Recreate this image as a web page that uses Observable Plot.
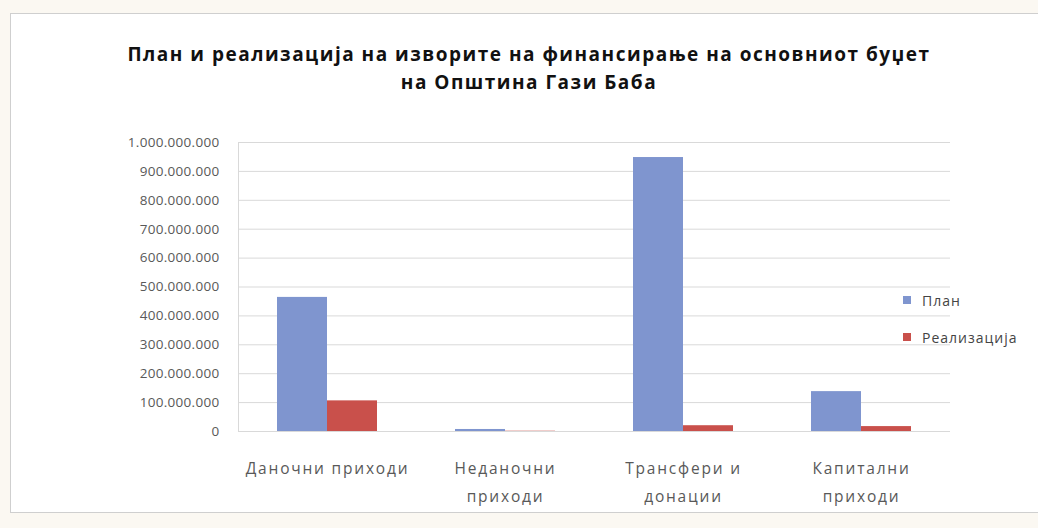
<!DOCTYPE html>
<html>
<head>
<meta charset="utf-8">
<script src="https://cdn.jsdelivr.net/npm/d3@7"></script>
<script src="https://cdn.jsdelivr.net/npm/@observablehq/plot@0.6"></script>
<style>
  html, body { margin: 0; padding: 0; background: #fbf8f2; width: 1038px; height: 528px; overflow: hidden; }
  #frame { position: absolute; left: 10px; top: 13px; width: 1040px; height: 498px; background: #ffffff; border: 1px solid #cfcfcf; }
  #title { position: absolute; left: 0; width: 1058px; top: 40px; text-align: center; font-family: "Open Sans", sans-serif; font-weight: 700; font-size: 19px; letter-spacing: 1.5px; line-height: 28px; color: #111; }
  #chart { position: absolute; left: 0; top: 100px; }
  #legend { position: absolute; left: 903px; top: 290px; font-family: "Open Sans", sans-serif; font-size: 14px; letter-spacing: 1px; color: #444; }
  #legend .item { display: flex; align-items: center; height: 20px; margin-bottom: 17px; }
  #legend .sw { width: 8px; height: 8px; margin-right: 11px; }
  g[aria-label="fx-axis tick label"] text { letter-spacing: 1.8px; }
  g[aria-label="y-axis tick label"] text { letter-spacing: 0.3px; }
</style>
</head>
<body>
<div id="frame"></div>
<div id="title">План и реализација на изворите на финансирање на основниот буџет<br>на Општина Гази Баба</div>
<div id="chart"></div>
<div id="legend"></div>
<script>
const categories = ["Даночни приходи", "Неданочни приходи", "Трансфери и донации", "Капитални приходи"];
const categoryLabels = ["Даночни приходи", "Неданочни\nприходи", "Трансфери и\nдонации", "Капитални\nприходи"];
const series = ["План", "Реализација"];
const planValues = [464000000, 7000000, 948000000, 138000000];
const realValues = [106000000, 1000000, 20000000, 17000000];
const yTicks = [0, 100000000, 200000000, 300000000, 400000000, 500000000, 600000000, 700000000, 800000000, 900000000, 1000000000];
const colors = ["#7f95cf", "#c9504b"];

const data = [];
categories.forEach((c, i) => {
  data.push({category: c, series: series[0], value: planValues[i]});
  data.push({category: c, series: series[1], value: realValues[i]});
});

const locale = d3.formatLocale({decimal: ",", thousands: ".", grouping: [3], currency: ["", ""]});
const fmt = locale.format(",");
const labelOf = new Map(categories.map((c, i) => [c, categoryLabels[i]]));

const chart = Plot.plot({
  width: 1038,
  height: 420,
  marginLeft: 237,
  marginRight: 88,
  marginTop: 42,
  marginBottom: 89,
  style: {fontFamily: "Open Sans, sans-serif", fontSize: "13px", color: "#595959", background: "transparent"},
  fx: {domain: categories, padding: 0, label: null},
  x: {domain: series, paddingInner: 0, paddingOuter: 0.78, axis: null},
  y: {domain: [0, 1000000000], label: null},
  color: {domain: series, range: colors},
  marks: [
    Plot.ruleY(yTicks, {stroke: "#d9d9d9", strokeWidth: 1}),
    Plot.frame({anchor: "left", facetAnchor: "left", stroke: "#d9d9d9"}),
    Plot.barY(data, {fx: "category", x: "series", y: "value", fill: "series"}),
    Plot.axisY({ticks: yTicks, tickSize: 0, tickPadding: 19, tickFormat: fmt, fill: "#595959", fontSize: 13.5}),
    Plot.axisFx({anchor: "bottom", tickSize: 0, tickPadding: 23, tickFormat: d => labelOf.get(d), fill: "#595959", fontSize: 15.5, lineHeight: 1.8, textAnchor: "middle", lineAnchor: "top"})
  ]
});
document.getElementById("chart").appendChild(chart);

const legend = document.getElementById("legend");
series.forEach((s, i) => {
  const item = document.createElement("div");
  item.className = "item";
  const sw = document.createElement("div");
  sw.className = "sw";
  sw.style.background = colors[i];
  const t = document.createElement("span");
  t.textContent = s;
  item.appendChild(sw);
  item.appendChild(t);
  legend.appendChild(item);
});
</script>
</body>
</html>
